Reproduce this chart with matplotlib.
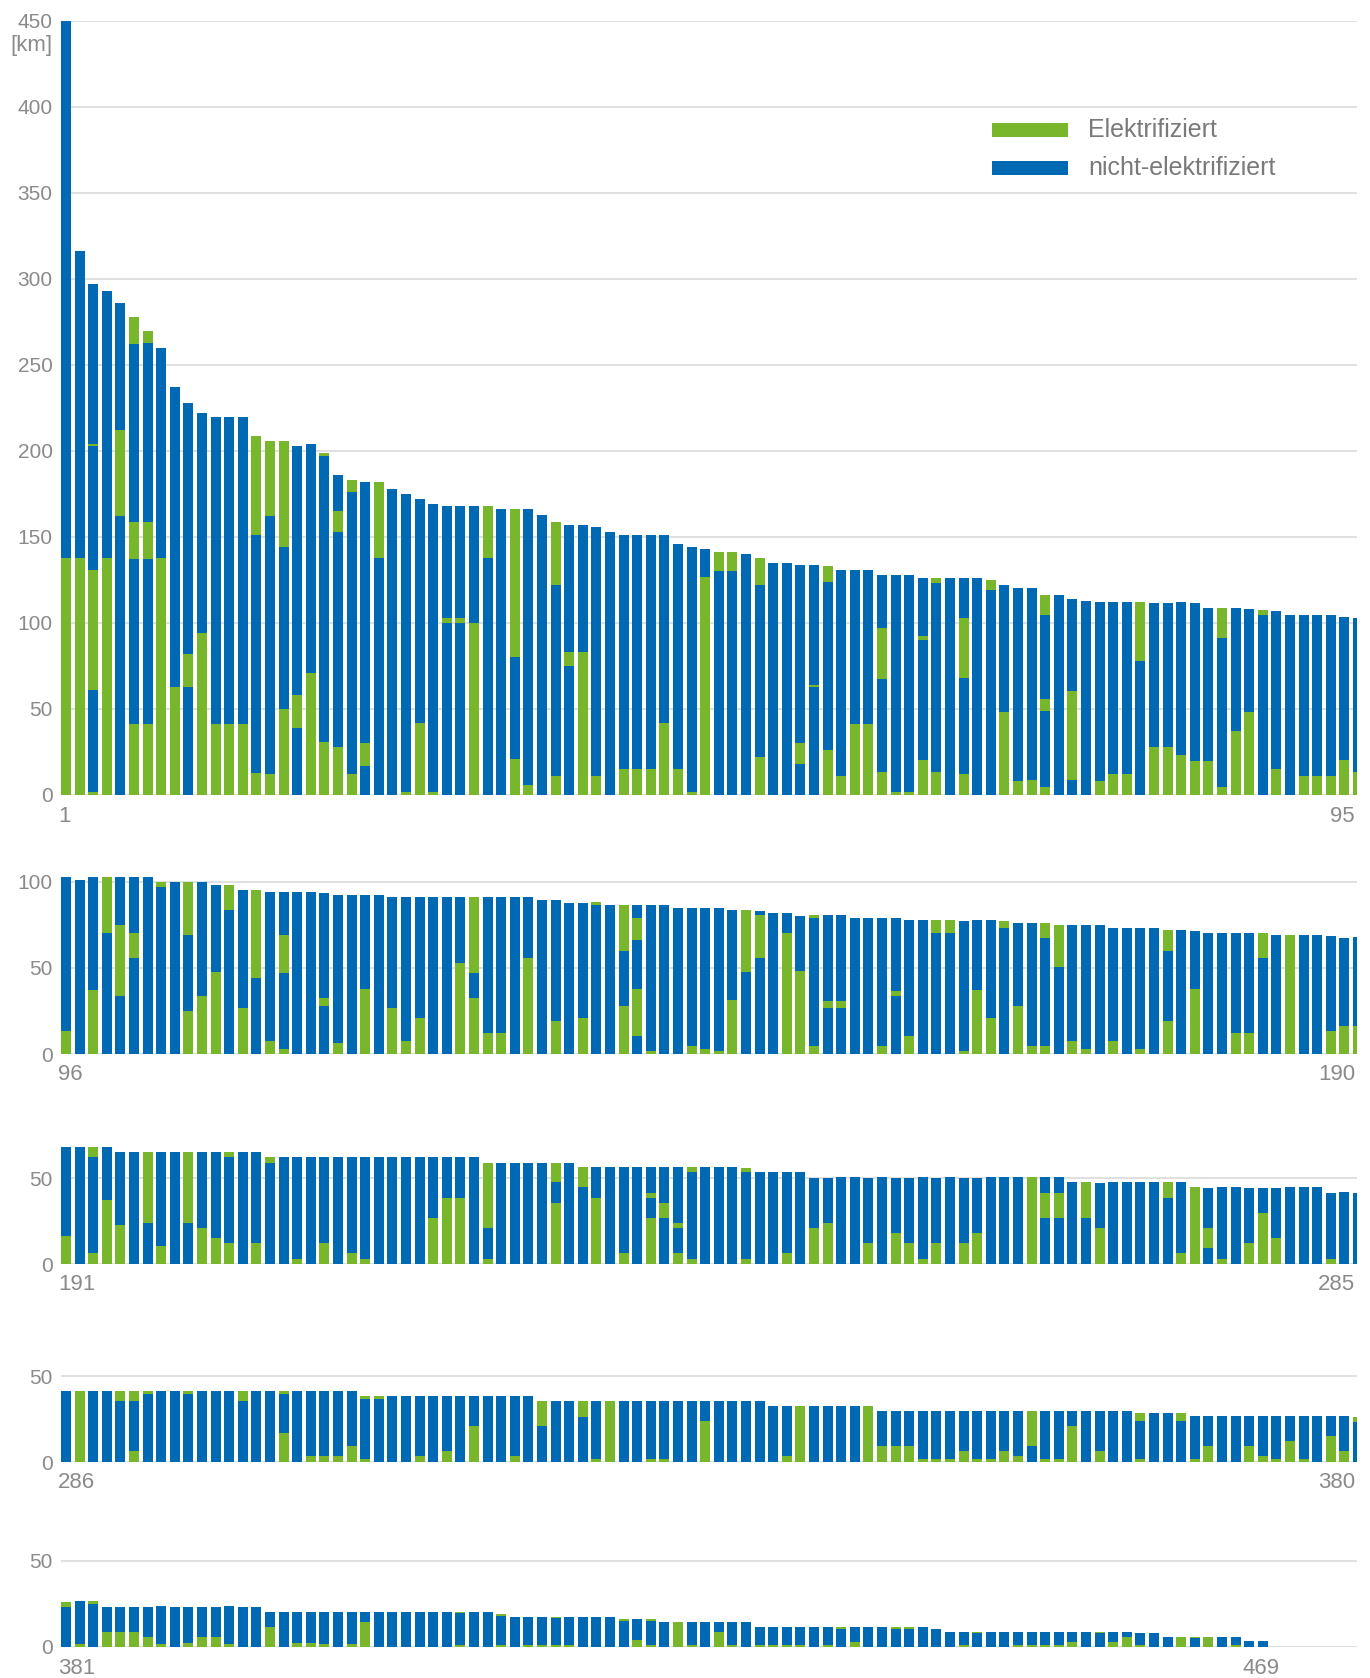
import matplotlib
matplotlib.use('Agg')
import matplotlib.pyplot as plt
from matplotlib.patches import Rectangle
from matplotlib.transforms import blended_transform_factory

plt.rcParams['font.family'] = ['Liberation Sans', 'DejaVu Sans']

GREEN = '#78b72b'
BLUE = '#0069b4'
GRID = '#dddddd'
LABEL = '#8a8a8a'

# Each bar: stacked segment lengths from the bottom, alternating
# Elektrifiziert (green), nicht-elektrifiziert (blue), green, blue, ...
bars_001_095 = [
    [138, 312], [138, 178], [1.5, 59.5, 70, 72, 1, 93], [138, 155], [0, 162, 50, 74],
    [41, 96, 22, 103, 16], [41, 96, 22, 104, 7], [138, 122], [63, 174], [0, 63, 19, 146],
    [94, 128], [41, 179], [41, 179], [41, 179], [13, 138, 58],
    [12, 150, 44], [50, 94, 62], [0, 39, 19, 145], [71, 133], [31, 166, 2],
    [28, 125, 12, 21], [12, 164, 7], [0, 17, 13, 152], [0, 138, 44], [0, 178],
    [2, 173], [42, 130], [2, 167], [0, 100, 3, 65], [0, 100, 3, 65],
    [100, 68], [0, 138, 30], [0, 166], [21, 59, 86], [6, 160],
    [0, 163], [11, 111, 37], [0, 75, 8, 74], [83, 74], [11, 145],
    [0, 153], [15, 136], [15, 136], [15, 136], [42, 109],
    [15, 131], [2, 142], [127, 16], [0, 130, 11], [0, 130, 11],
    [0, 140], [22, 100, 16], [0, 135], [0, 135], [0, 18, 12, 104],
    [0, 63, 1, 70], [26, 98, 9], [11, 120], [41, 90], [41, 90],
    [13.5, 54, 29.5, 31], [1.5, 126.5], [1.5, 126.5], [20.5, 69.5, 2.5, 33.5], [13.5, 109.5, 3],
    [0, 126], [12, 56, 35, 23], [0, 126], [0, 119, 6], [48, 74],
    [8, 112.5], [9, 111.5], [4.4, 44.6, 7, 48.5, 11.5], [0, 116], [0, 9, 51.5, 53.5],
    [0, 113], [8, 104], [12, 100], [12, 100], [0, 78, 34],
    [28, 83.6], [28, 83.6], [23.5, 88.5], [19.5, 92], [19.5, 89],
    [4.4, 86.6, 18], [37, 72], [48.4, 60], [0, 104.4, 3], [15, 92],
    [0, 104.4], [11, 93.4], [11, 93.4], [11, 93.4], [20.6, 82.7],
]

bars_096_190 = [
    [13.3, 89.6], [0, 101], [37, 66], [0, 70.5, 32.5], [0, 34, 41, 28],
    [0, 56, 14.5, 32.5], [0, 103], [0, 97, 3], [0, 100], [25, 44, 31],
    [34, 66], [47.4, 50.6], [0, 84, 14], [26.6, 68.8], [0, 44, 51.4],
    [7.5, 86.5], [3, 44, 22, 25], [0, 94], [0, 94], [0, 27.7, 4.7, 61.2],
    [6.4, 86], [0, 92.5], [38, 54.5], [0, 92.5], [26.6, 64.4],
    [7.5, 83.5], [20.8, 70.2], [0, 91.3], [0, 91.3], [53, 38],
    [32.4, 14.6, 44.3], [12, 79], [12, 79], [0, 91.3], [56, 35],
    [0, 89.6], [19, 70.6], [0, 88], [20.8, 67.2], [0, 86.7, 1.5],
    [0, 86.7], [27.7, 32.3, 26.7], [0, 10.4, 27.6, 28, 13, 7.7], [1.7, 85], [0, 86.7],
    [0, 85], [4.6, 80.4], [3, 82], [1.7, 83.3], [31.2, 52.6],
    [0, 47.4, 36.4], [0, 56, 25, 2.2], [0, 82], [70.5, 11.5], [48.5, 31.8],
    [4.6, 74.4, 2], [0, 26.6, 4, 50.4], [0, 26.6, 4, 50.4], [0, 79.2], [0, 79.2],
    [4.6, 74.6], [0, 34, 2.4, 42.8], [10.4, 67.6], [0, 78], [0, 70.5, 7.5],
    [0, 70.5, 7.5], [1.7, 75.8], [37, 41], [20.8, 57.2], [0, 73.4, 4.1],
    [27.7, 48.6], [4.6, 71.7], [4.6, 63, 8.7], [0, 50.3, 24.7], [7.5, 67.5],
    [2.9, 72.1], [0, 75], [7.5, 65.9], [0, 73.4], [2.9, 70.5],
    [0, 73.4], [19, 41, 12.3], [0, 72.3], [38, 33.7], [0, 70.5],
    [0, 70.5], [12, 58.5], [12, 58.5], [0, 56, 14.5], [0, 69.4],
    [69.4], [0, 69.4], [0, 69.4], [13.3, 55.5], [16.2, 51.4],
]

bars_191_285 = [
    [16.2, 51.6], [0, 67.8], [6.4, 55.6, 5.8], [37, 30.8], [22.6, 42.4],
    [0, 65], [0, 23.7, 41.3], [10.4, 54.6], [0, 65], [0, 23.7, 41.3],
    [20.8, 44.2], [15, 50], [12.2, 49.8, 3], [0, 65], [12.2, 52.8],
    [0, 59, 3], [0, 62], [3, 59], [0, 62], [12.2, 49.8],
    [0, 62], [6.4, 55.6], [3, 59], [0, 62], [0, 62],
    [0, 62], [0, 62], [26.6, 35.4], [38.2, 23.8], [38.2, 23.8],
    [0, 62], [3, 17.8, 38.2], [0, 59], [0, 59], [0, 59],
    [0, 59], [35.3, 12.2, 11.5], [0, 59], [0, 44.6, 11.6], [38.2, 18],
    [0, 56.2], [6.4, 49.8], [0, 56.2], [26.6, 11.6, 2.8, 15.2], [0, 26.6, 8.7, 20.9],
    [6.4, 14.4, 2.9, 32.5], [3, 50.3, 2.9], [0, 56.2], [0, 56.2], [0, 56.2],
    [3, 50.3, 2.5], [0, 53.3], [0, 53.3], [6.4, 46.9], [0, 53.3],
    [20.8, 29.2], [23.7, 26.3], [0, 50.4], [0, 50.4], [12.2, 37.8],
    [0, 50.4], [18, 32], [12.2, 37.8], [3, 47.4], [12.2, 37.8],
    [0, 50.4], [12.2, 37.8], [18, 32], [0, 50.4], [0, 50.4],
    [0, 50.4], [50.4], [0, 26.6, 14.4, 9.4], [0, 26.6, 14.4, 9.4], [0, 47.5],
    [0, 26.6, 20.9], [20.8, 26.2], [0, 47.5], [0, 47.5], [0, 47.5],
    [0, 47.5], [0, 38.2, 9.3], [6.4, 41.1], [44.6], [0, 9.3, 11.5, 23.2],
    [3, 41.6], [0, 44.6], [12.2, 31.8], [29.5, 14.5], [15, 29],
    [0, 44.6], [0, 44.6], [0, 44.6], [3, 38], [0, 41.7],
]

bars_286_380 = [
    [0, 41.4], [41.4], [0, 41.4], [0, 41.4], [0, 35.6, 5.8],
    [6.3, 29.3, 5.8], [0, 39.7, 1.7], [0, 41.4], [0, 41.4], [0, 39.7, 1.7],
    [0, 41.4], [0, 41.4], [0, 41.4], [0, 35.6, 5.8], [0, 41.4],
    [0, 41.4], [16.7, 23, 1.7], [0, 41.4], [3.4, 38], [3.4, 38],
    [3.4, 38], [9.2, 32.2], [1.7, 35.1, 1.7], [0, 36.8, 1.7], [0, 38.5],
    [0, 38.5], [3.4, 35.1], [0, 38.5], [6.3, 32.2], [0, 38.5],
    [20.7, 17.8], [0, 38.5], [0, 38.5], [3.4, 35.1], [0, 38.5],
    [0, 20.7, 14.9], [0, 35.6], [0, 35.6], [0, 26.4, 9.2], [1.7, 33.9],
    [35.6], [0, 35.6], [0, 35.6], [1.7, 33.9], [1.7, 33.9],
    [0, 35.6], [0, 35.6], [23.6, 12], [0, 35.6], [0, 35.6],
    [0, 35.6], [0, 35.6], [0, 32.8], [3.4, 29.4], [32.8],
    [0, 32.8], [0, 32.8], [0, 32.8], [0, 32.8], [32.8],
    [9.2, 20.7], [9.2, 20.7], [9.2, 20.7], [1.7, 28.2], [1.7, 28.2],
    [1.7, 28.2], [6.3, 23.6], [1.7, 28.2], [1.7, 28.2], [6.3, 23.6],
    [3.4, 26.1], [0, 9.2, 20.7], [1.7, 28.2], [1.7, 28.2], [20.7, 9.2],
    [0, 29.5], [6.3, 23.6], [0, 29.5], [0, 29.5], [1.7, 22.4, 4.1],
    [0, 28.2], [0, 28.2], [0, 23.6, 4.6], [1.7, 25.3], [9.2, 17.4],
    [0, 26.6], [0, 26.6], [9.2, 17.4], [3.4, 23.2], [1.7, 25.3],
    [12, 15], [1.7, 25.3], [0, 26.6], [15, 12], [6.3, 20.7],
]

bars_381_469 = [
    [0, 23.2, 2.8], [1.5, 25.1], [0, 24.9, 1.7], [8.8, 14.4], [8.8, 14.4],
    [8.8, 14.4], [5.9, 17.3], [1.5, 22.3], [0, 23.2], [2.5, 20.7],
    [5.9, 17.3], [5.9, 17.3], [1.5, 22.3], [0, 23.2], [0, 23.2],
    [11.7, 8.6], [0, 20.3], [2.5, 17.8], [2.5, 17.8], [1.5, 18.8],
    [0, 20.3], [1.5, 18.8], [14.6, 5.7], [0, 20.3], [0, 20.3],
    [0, 20.3], [0, 20.3], [0, 20.3], [0, 20.3], [1, 18.7, 0.6],
    [0, 20.3], [0, 20.3], [1, 17, 1.2], [0, 17.4], [1, 16.4],
    [1, 16.4], [1, 15.9, 0.5], [1, 16.4], [0, 17.4], [0, 17.4],
    [0, 17.4], [0, 15.1, 1.2], [4.2, 12.1], [1, 14.1, 1.2], [0, 14.6],
    [14.6], [1, 13.6], [0, 14.8], [9, 5.8], [1.1, 13.7],
    [0, 14.8], [1.1, 10.8], [1.1, 10.8], [1.1, 10.8], [1.1, 10.8],
    [0, 11.9], [1.1, 10.8], [0, 10.7, 1.2], [2.7, 9.2], [0, 11.9],
    [0, 11.9], [0, 10.7, 1.2], [0, 10.7, 1.2], [0, 11.9], [0, 10.7],
    [0, 9], [1.1, 7.9], [0, 7.9, 1.1], [0, 9], [0, 9],
    [1.1, 7.9], [1.1, 7.9], [1.1, 7.9], [1.1, 7.9], [2.7, 6.3],
    [0, 9], [0, 7.9, 1.1], [2.7, 6.3], [6.1, 2.9], [1.1, 6.8],
    [0, 7.9], [0, 6.1], [6.1], [0, 5, 1.1], [6.1],
    [0, 6.1], [1.1, 4.5, 0.5], [0, 3.3], [0, 3.3],
]

all_bars = bars_001_095 + bars_096_190 + bars_191_285 + bars_286_380 + bars_381_469

panel_starts = [1, 96, 191, 286, 381]
panel_ymax = [450, 105, 70, 52, 52]
panel_yticks = [[0, 50, 100, 150, 200, 250, 300, 350, 400, 450], [0, 50, 100], [0, 50], [0, 50], [0, 50]]
panel_end_labels = ['95', '190', '285', '380', '469']
legend_labels = ['Elektrifiziert', 'nicht-elektrifiziert']

W, H = 1370, 1678
DPI = 100
fig = plt.figure(figsize=(W / DPI, H / DPI), dpi=DPI)

LEFT_PX, RIGHT_PX = 61, 1357
BOTTOMS_PX = [795, 1054, 1264, 1462, 1647]
PX_PER_KM = (795 - 21) / 450.0
BAR_W = 0.735
N = len(all_bars)
YFS = 15
XFS = 16


def draw_bars(ax, lo, hi):
    nums = list(range(lo, hi + 1))
    segs = [all_bars[n - 1] for n in nums]
    maxlen = max(len(s) for s in segs)
    bottoms = [0.0] * len(segs)
    for k in range(maxlen):
        xs, hs, bs = [], [], []
        for i, s in enumerate(segs):
            if k < len(s):
                if s[k] > 0:
                    xs.append(nums[i]); hs.append(s[k]); bs.append(bottoms[i])
                bottoms[i] += s[k]
        if xs:
            ax.bar(xs, hs, bottom=bs, width=BAR_W, color=GREEN if k % 2 == 0 else BLUE,
                   linewidth=0, zorder=3)


for p, s in enumerate(panel_starts):
    ymax = panel_ymax[p]
    bot = BOTTOMS_PX[p]
    top = bot - ymax * PX_PER_KM
    ax = fig.add_axes([LEFT_PX / W, 1 - bot / H, (RIGHT_PX - LEFT_PX) / W, (bot - top) / H])
    hi = min(s + 95, N)
    draw_bars(ax, s, hi)
    ax.set_xlim(s - BAR_W / 2, s + 94.93)
    ax.set_ylim(0, ymax)
    ax.set_yticks(panel_yticks[p])
    ax.set_yticklabels([str(v) for v in panel_yticks[p]])
    ax.set_xticks([])
    ax.yaxis.grid(True, color=GRID, linewidth=1.3, zorder=0)
    ax.set_axisbelow(True)
    for sp in ax.spines.values():
        sp.set_visible(False)
    ax.tick_params(axis='y', length=0, pad=6, labelsize=YFS, labelcolor=LABEL)
    for lab in ax.get_yticklabels():
        lab.set_clip_on(False)
    trans = blended_transform_factory(ax.transData, ax.transAxes)
    ax.annotate(str(s), xy=(s - BAR_W / 2, 0), xycoords=trans, xytext=(-3, -21),
                textcoords='offset pixels', ha='left', va='center', fontsize=XFS, color=LABEL)
    end_lab = panel_end_labels[p]
    if int(end_lab) == N:
        ax.annotate(end_lab, xy=(N, 0), xycoords=trans, xytext=(-2, -21),
                    textcoords='offset pixels', ha='center', va='center', fontsize=XFS, color=LABEL)
    else:
        ax.annotate(end_lab, xy=(1, 0), xycoords='axes fraction', xytext=(-2, -21),
                    textcoords='offset pixels', ha='right', va='center', fontsize=XFS, color=LABEL)
    if p == 0:
        ax.annotate('[km]', xy=(0, 450), xycoords=('axes fraction', 'data'), xytext=(-8, -25),
                    textcoords='offset pixels', ha='right', va='center', fontsize=16, color=LABEL)
        # legend
        for j, (lab, col) in enumerate(zip(legend_labels, [GREEN, BLUE])):
            yc = 130 + j * 38
            fig.patches.append(Rectangle((992 / W, 1 - (yc + 6.5) / H), 76 / W, 13 / H,
                                         transform=fig.transFigure, color=col, linewidth=0))
            fig.text(1088 / W, 1 - yc / H, lab, ha='left', va='center', fontsize=18, color='#7a7a7a')

fig.savefig('out.png', dpi=DPI)
